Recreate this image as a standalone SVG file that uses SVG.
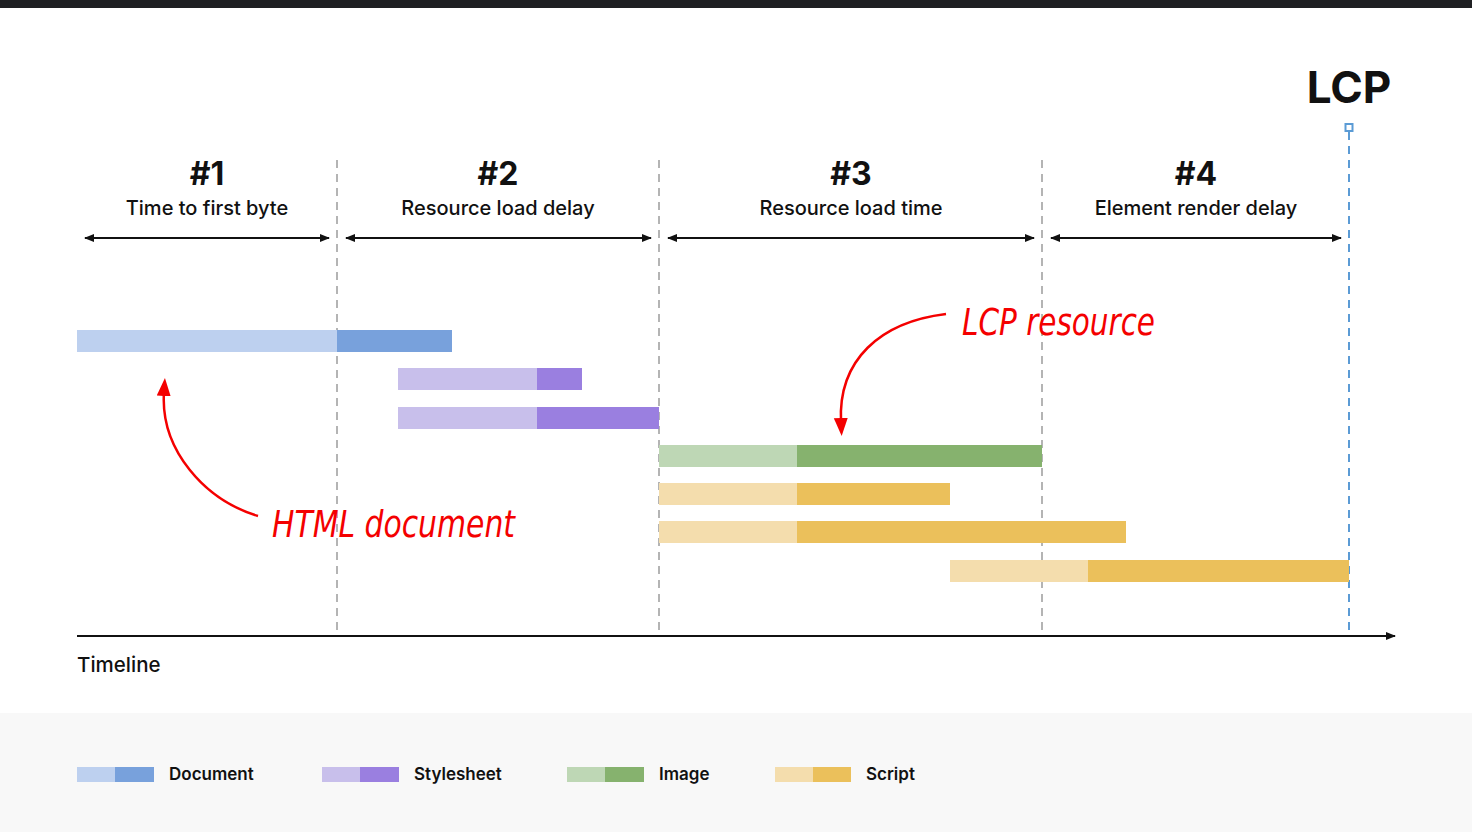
<svg xmlns="http://www.w3.org/2000/svg" width="1472" height="832" viewBox="0 0 1472 832">
<defs>
<style>
.hdr{font-family:Inter,"Noto Sans",sans-serif;font-weight:700;font-size:32px;fill:#111;text-anchor:middle}
.sub{font-family:Inter,"Noto Sans",sans-serif;font-weight:500;font-size:20px;fill:#111;text-anchor:middle}
.leg{font-family:Inter,"Noto Sans",sans-serif;font-weight:600;font-size:17px;fill:#111}
.hand{font-family:"DejaVu Sans","Liberation Sans",sans-serif;font-style:italic;font-size:38px;fill:#f40000}
.vdash{stroke:#b4b4b4;stroke-width:2;stroke-dasharray:8,6;fill:none}
.span{stroke:#111;stroke-width:2;fill:none;marker-start:url(#ah2);marker-end:url(#ah)}
.red{stroke:#f40000;stroke-width:2.5;fill:none}
.dl{fill:#bdd0ef}.dd{fill:#78a1dc}
.sl{fill:#c8bfeb}.sd{fill:#9a7fe0}
.il{fill:#bed7b5}.id{fill:#86b26e}
.cl{fill:#f4ddad}.cd{fill:#ebc05b}
</style>
<marker id="ah" markerWidth="10" markerHeight="8" refX="9" refY="4" orient="auto" markerUnits="userSpaceOnUse"><path d="M0,0 L10,4 L0,8 z" fill="#111"/></marker>
<marker id="ah2" markerWidth="10" markerHeight="8" refX="1" refY="4" orient="auto" markerUnits="userSpaceOnUse"><path d="M10,0 L0,4 L10,8 z" fill="#111"/></marker>
<marker id="rah" markerWidth="20" markerHeight="18" refX="4" refY="9" orient="auto" markerUnits="userSpaceOnUse"><path d="M0,2 L18,9 L0,16 z" fill="#f40000"/></marker>
</defs>
<rect x="0" y="0" width="1472" height="832" fill="#ffffff"/>
<rect x="0" y="0" width="1472" height="8" fill="#1f2023"/>
<rect x="0" y="713" width="1472" height="119" fill="#f8f8f8"/>

<g id="connectors">
<line class="vdash" x1="337" y1="160" x2="337" y2="636"/>
<line class="vdash" x1="659" y1="160" x2="659" y2="636"/>
<line class="vdash" x1="1042" y1="160" x2="1042" y2="636"/>
<line class="span" x1="85" y1="238" x2="329" y2="238"/>
<line class="span" x1="346" y1="238" x2="651" y2="238"/>
<line class="span" x1="668" y1="238" x2="1034" y2="238"/>
<line class="span" x1="1051" y1="238" x2="1341" y2="238"/>
<line x1="77" y1="636" x2="1395" y2="636" stroke="#111" stroke-width="2" marker-end="url(#ah)"/>
<path class="red" d="M258,516 C205,500 160,450 164,392" marker-end="url(#rah)"/>
<path class="red" d="M946,314 C880,322 838,360 841,422" marker-end="url(#rah)"/>
</g>

<g id="lcp-marker">
<line x1="1349" y1="132" x2="1349" y2="636" stroke="#5b9bd5" stroke-width="2" stroke-dasharray="8,6"/>
<rect x="1345.5" y="124" width="7" height="7" fill="#fff" stroke="#5b9bd5" stroke-width="2"/>
<text x="1349" y="103" style="font-family:Inter,'Noto Sans',sans-serif;font-weight:700;font-size:44px;fill:#111;text-anchor:middle">LCP</text>
</g>

<g id="phase1"><text class="hdr" x="207" y="185">#1</text><text class="sub" x="207" y="215">Time to first byte</text></g>
<g id="phase2"><text class="hdr" x="498" y="185">#2</text><text class="sub" x="498" y="215">Resource load delay</text></g>
<g id="phase3"><text class="hdr" x="851" y="185">#3</text><text class="sub" x="851" y="215">Resource load time</text></g>
<g id="phase4"><text class="hdr" x="1196" y="185">#4</text><text class="sub" x="1196" y="215">Element render delay</text></g>

<g id="bar-document"><rect class="dl" x="77" y="330" width="260" height="22"/><rect class="dd" x="337" y="330" width="115" height="22"/></g>
<g id="bar-style1"><rect class="sl" x="398" y="368" width="139" height="22"/><rect class="sd" x="537" y="368" width="45" height="22"/></g>
<g id="bar-style2"><rect class="sl" x="398" y="407" width="139" height="22"/><rect class="sd" x="537" y="407" width="122" height="22"/></g>
<g id="bar-image"><rect class="il" x="659" y="445" width="138" height="22"/><rect class="id" x="797" y="445" width="245" height="22"/></g>
<g id="bar-script1"><rect class="cl" x="659" y="483" width="138" height="22"/><rect class="cd" x="797" y="483" width="153" height="22"/></g>
<g id="bar-script2"><rect class="cl" x="659" y="521" width="138" height="22"/><rect class="cd" x="797" y="521" width="329" height="22"/></g>
<g id="bar-script3"><rect class="cl" x="950" y="560" width="138" height="22"/><rect class="cd" x="1088" y="560" width="261" height="22"/></g>

<g id="label-html"><text class="hand" x="272" y="537" textLength="243" lengthAdjust="spacingAndGlyphs">HTML document</text></g>
<g id="label-lcp"><text class="hand" x="962" y="335" textLength="193" lengthAdjust="spacingAndGlyphs">LCP resource</text></g>

<g id="timeline-label"><text x="77" y="672" style="font-family:Inter,'Noto Sans',sans-serif;font-weight:500;font-size:20.5px;fill:#111">Timeline</text></g>

<g id="legend-document"><rect class="dl" x="77" y="767" width="38" height="15"/><rect class="dd" x="115" y="767" width="39" height="15"/><text class="leg" x="169" y="780">Document</text></g>
<g id="legend-stylesheet"><rect class="sl" x="322" y="767" width="38" height="15"/><rect class="sd" x="360" y="767" width="39" height="15"/><text class="leg" x="414" y="780">Stylesheet</text></g>
<g id="legend-image"><rect class="il" x="567" y="767" width="38" height="15"/><rect class="id" x="605" y="767" width="39" height="15"/><text class="leg" x="659" y="780">Image</text></g>
<g id="legend-script"><rect class="cl" x="775" y="767" width="38" height="15"/><rect class="cd" x="813" y="767" width="38" height="15"/><text class="leg" x="866" y="780">Script</text></g>
</svg>
